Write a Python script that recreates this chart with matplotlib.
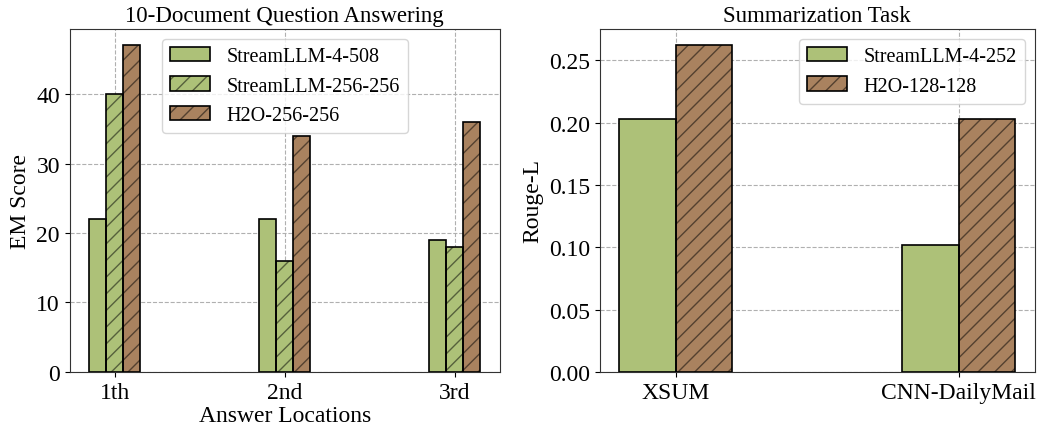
import numpy as np
import matplotlib
matplotlib.use('Agg')
import matplotlib.pyplot as plt
from matplotlib.legend_handler import HandlerTuple

plt.rcParams['font.family'] = ['Liberation Serif', 'DejaVu Serif']
plt.rcParams['font.size'] = 17
plt.rcParams['hatch.linewidth'] = 1.0

# left panel: 10-document QA
qa_locations = ['1th', '2nd', '3rd']
qa_labels = ['StreamLLM-4-508', 'StreamLLM-256-256', 'H2O-256-256']
qa_scores = [[22, 22, 19],
             [40, 16, 18],
             [47, 34, 36]]

# right panel: summarization
sum_tasks = ['XSUM', 'CNN-DailyMail']
sum_labels = ['StreamLLM-4-252', 'H2O-128-128']
sum_scores = [[0.203, 0.102],
              [0.262, 0.203]]

green = '#adc178'
brown = '#a9825f'
qa_colors = [green, green, brown]
qa_hatches = ['', '//', '//']
sum_colors = [green, brown]
sum_hatches = ['', '//']


def hatched_bars(ax, x, h, w, color, hatch):
    b1 = ax.bar(x, h, w, color=color, hatch=hatch,
                edgecolor=(0, 0, 0, 0.5), linewidth=0, zorder=3)
    b2 = ax.bar(x, h, w, fill=False, edgecolor='black', linewidth=1.2,
                zorder=4)
    return (b1, b2)


fig = plt.figure(figsize=(10.39, 4.31), dpi=100)
ax1 = fig.add_axes([0.067, 0.135, 0.414, 0.795])
ax2 = fig.add_axes([0.577, 0.135, 0.419, 0.795])

x = np.arange(len(qa_locations))
w = 0.1
handles = []
for i in range(len(qa_labels)):
    handles.append(hatched_bars(ax1, x + (i - 1) * w, qa_scores[i], w,
                                qa_colors[i], qa_hatches[i]))
ax1.set_xticks(x)
ax1.set_xticklabels(qa_locations)
ax1.set_xlabel('Answer Locations', labelpad=2)
ax1.set_ylabel('EM Score')
ax1.set_title('10-Document Question Answering', fontsize=16.5)
ax1.legend(handles, qa_labels, loc='upper center', fontsize=14.5,
           handler_map={tuple: HandlerTuple(ndivide=1)})

x2 = np.arange(len(sum_tasks))
w2 = 0.2
handles2 = []
for i in range(len(sum_labels)):
    handles2.append(hatched_bars(ax2, x2 + (i - 0.5) * w2, sum_scores[i], w2,
                                 sum_colors[i], sum_hatches[i]))
ax2.set_xticks(x2)
ax2.set_xticklabels(sum_tasks)
ax2.set_ylabel('Rouge-L')
ax2.set_title('Summarization Task', fontsize=16.5)
ax2.legend(handles2, sum_labels, loc='upper right', fontsize=14.5,
           handler_map={tuple: HandlerTuple(ndivide=1)})

for ax in (ax1, ax2):
    ax.grid(True, linestyle='--', color='#b0b0b0', linewidth=0.8)
    ax.set_axisbelow(True)
    for s in ax.spines.values():
        s.set_color('#333333')

fig.savefig('out.png', dpi=100)
